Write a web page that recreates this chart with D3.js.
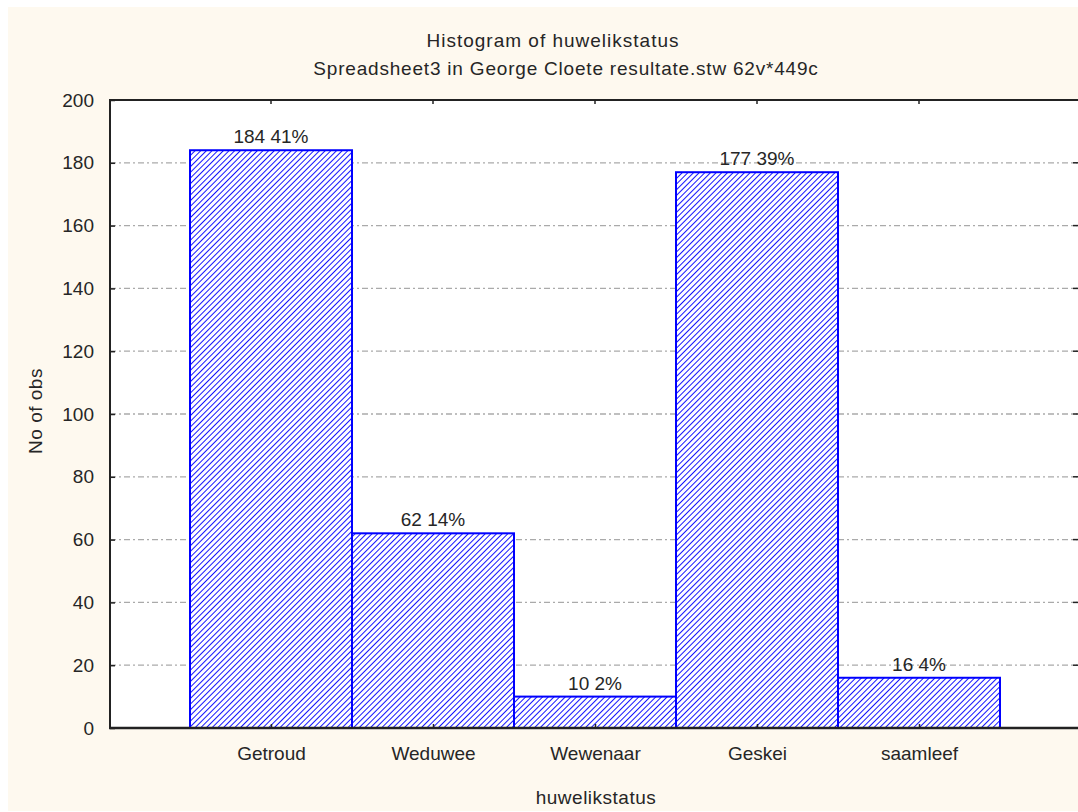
<!DOCTYPE html>
<html>
<head>
<meta charset="utf-8">
<script src="https://cdn.jsdelivr.net/npm/d3@7"></script>
<style>
  body { margin: 0; background: #fff; }
  svg { display: block; font-family: "Liberation Sans", Arial, sans-serif; }
</style>
</head>
<body>
<svg width="1078" height="812"></svg>
<script>
const categories = ["Getroud", "Weduwee", "Wewenaar", "Geskei", "saamleef"];
const counts = [184, 62, 10, 177, 16];
const percents = ["41%", "14%", "2%", "39%", "4%"];
const yTicks = [0, 20, 40, 60, 80, 100, 120, 140, 160, 180, 200];

const svg = d3.select("svg");
const fontSize = 19;
const textColor = "#262626";

// cream panel (thin white strip on the left/top like the screenshot)
svg.append("rect")
  .attr("x", 8).attr("y", 7)
  .attr("width", 1070).attr("height", 804)
  .attr("fill", "#fef9ef");

const plotLeft = 110, plotTop = 100, plotBottom = 728, plotRight = 1077;

// x: category i sits at i+1, domain 0..6
const x = d3.scaleLinear().domain([0, 6]).range([plotLeft - 1, 1081]);
const y = d3.scaleLinear().domain([0, 200]).range([plotBottom, plotTop]);

// hatch pattern
const defs = svg.append("defs");
const pat = defs.append("pattern")
  .attr("id", "hatch")
  .attr("patternUnits", "userSpaceOnUse")
  .attr("width", 4).attr("height", 4)
  .attr("patternTransform", "rotate(45)");
pat.append("rect").attr("width", 4).attr("height", 4).attr("fill", "#fff");
pat.append("line")
  .attr("x1", 0).attr("y1", 0).attr("x2", 0).attr("y2", 4)
  .attr("stroke", "#1414ff").attr("stroke-width", 2);

// plot background
svg.append("rect")
  .attr("x", plotLeft).attr("y", plotTop)
  .attr("width", plotRight - plotLeft + 10).attr("height", plotBottom - plotTop)
  .attr("fill", "#fff");

// grid
svg.append("g")
  .selectAll("line")
  .data(yTicks.filter(d => d > 0 && d < 200))
  .join("line")
  .attr("x1", plotLeft).attr("x2", plotRight)
  .attr("y1", d => y(d)).attr("y2", d => y(d))
  .attr("stroke", "#aaa")
  .attr("stroke-width", 1.3)
  .attr("stroke-dasharray", "6,3,2,3");

// bars
svg.append("g")
  .selectAll("rect")
  .data(counts)
  .join("rect")
  .attr("x", (d, i) => x(i + 0.5))
  .attr("y", d => y(d))
  .attr("width", (d, i) => x(i + 1.5) - x(i + 0.5))
  .attr("height", d => y(0) - y(d))
  .attr("fill", "url(#hatch)")
  .attr("stroke", "#0000ff")
  .attr("stroke-width", 2);

// bar labels
svg.append("g")
  .selectAll("text")
  .data(counts)
  .join("text")
  .attr("x", (d, i) => x(i + 1))
  .attr("y", d => y(d) - 7)
  .attr("text-anchor", "middle")
  .attr("font-size", fontSize)
  .attr("fill", textColor)
  .text((d, i) => d + " " + percents[i]);

// frame
const axisColor = "#222";
svg.append("line").attr("x1", plotLeft).attr("x2", plotLeft).attr("y1", plotTop).attr("y2", plotBottom + 1)
  .attr("stroke", axisColor).attr("stroke-width", 2);
svg.append("line").attr("x1", plotLeft - 1).attr("x2", 1078).attr("y1", plotTop).attr("y2", plotTop)
  .attr("stroke", axisColor).attr("stroke-width", 2);
svg.append("line").attr("x1", plotLeft - 1).attr("x2", 1078).attr("y1", plotBottom).attr("y2", plotBottom)
  .attr("stroke", axisColor).attr("stroke-width", 2.5);

// y axis ticks + labels
const yAxis = d3.axisLeft(y).tickValues(yTicks).tickSize(-5).tickPadding(16);
const gy = svg.append("g").attr("transform", `translate(${plotLeft},0)`).call(yAxis);
gy.select(".domain").remove();
gy.selectAll(".tick line").attr("stroke", axisColor).attr("stroke-width", 1.5);
gy.selectAll(".tick text")
  .attr("font-size", fontSize).attr("fill", textColor)
  .attr("font-family", "Liberation Sans, Arial, sans-serif");

// right side ticks
svg.append("g")
  .selectAll("line")
  .data(yTicks.filter(d => d > 0 && d < 200))
  .join("line")
  .attr("x1", plotRight - 4).attr("x2", 1078)
  .attr("y1", d => y(d)).attr("y2", d => y(d))
  .attr("stroke", axisColor).attr("stroke-width", 1.5);

// x axis ticks + labels
const xAxis = d3.axisBottom(x)
  .tickValues(d3.range(1, categories.length + 1))
  .tickFormat(d => categories[d - 1])
  .tickSize(-4).tickPadding(19);
const gx = svg.append("g").attr("transform", `translate(0,${plotBottom})`).call(xAxis);
gx.select(".domain").remove();
gx.selectAll(".tick line").attr("stroke", axisColor).attr("stroke-width", 1.5);
gx.selectAll(".tick text")
  .attr("font-size", fontSize).attr("fill", textColor)
  .attr("font-family", "Liberation Sans, Arial, sans-serif");

// top ticks
svg.append("g")
  .selectAll("line")
  .data(d3.range(1, categories.length + 1))
  .join("line")
  .attr("x1", d => x(d)).attr("x2", d => x(d))
  .attr("y1", plotTop).attr("y2", plotTop + 4)
  .attr("stroke", axisColor).attr("stroke-width", 1.5);

// titles
svg.append("text")
  .attr("x", 553).attr("y", 47)
  .attr("text-anchor", "middle").attr("font-size", fontSize).attr("fill", textColor)
  .attr("letter-spacing", 1)
  .text("Histogram of huwelikstatus");
svg.append("text")
  .attr("x", 566).attr("y", 75)
  .attr("text-anchor", "middle").attr("font-size", fontSize).attr("fill", textColor)
  .attr("letter-spacing", 0.8)
  .text("Spreadsheet3 in George Cloete resultate.stw 62v*449c");

svg.append("text")
  .attr("x", 596).attr("y", 804)
  .attr("text-anchor", "middle").attr("font-size", fontSize).attr("fill", textColor)
  .attr("letter-spacing", 0.5)
  .text("huwelikstatus");

svg.append("text")
  .attr("transform", "translate(42,411) rotate(-90)")
  .attr("text-anchor", "middle").attr("font-size", fontSize).attr("fill", textColor)
  .attr("letter-spacing", 0.5)
  .text("No of obs");
</script>
</body>
</html>
